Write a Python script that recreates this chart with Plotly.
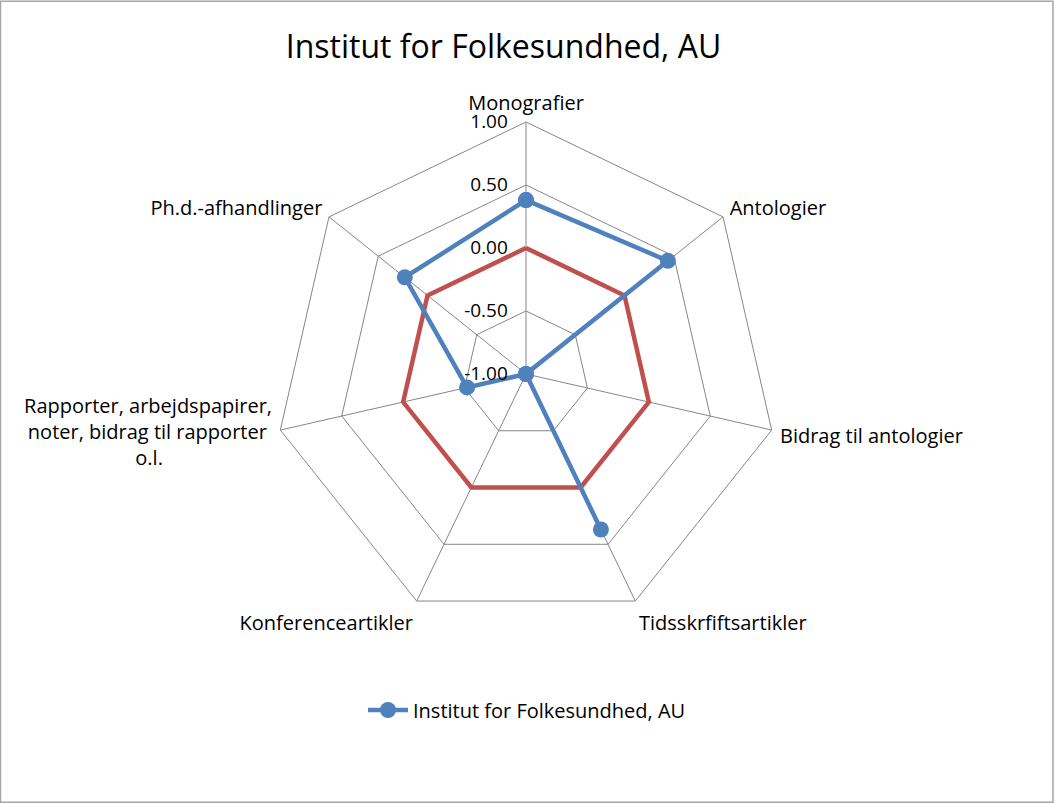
import plotly.graph_objects as go

categories = ["Monografier", "Antologier", "Bidrag til antologier", "Tidsskrfiftsartikler",
              "Konferenceartikler",
              "Rapporter, arbejdspapirer,<br>noter, bidrag til rapporter\u00a0<br>o.l." + "\u00a0" * 21 + "<br>\u00a0",
              "Ph.d.-afhandlinger"]
institut_values = [0.38, 0.44, -1.00, 0.37, -1.00, -0.52, 0.23]
reference_values = [0.0, 0.0, 0.0, 0.0, 0.0, 0.0, 0.0]
radial_ticks = [-1.0, -0.5, 0.0, 0.5, 1.0]
series_name = "Institut for Folkesundhed, AU"
title_text = "Institut for Folkesundhed, AU"

W, H = 1054, 803
cx, cy, R = 526, 374, 252

FONT = "Open Sans"
GRID = "#868686"
BLUE = "#4F81BD"
RED = "#C0504D"

fig = go.Figure()
fig.add_trace(go.Scatterpolar(
    r=reference_values + reference_values[:1],
    theta=categories + categories[:1],
    mode="lines",
    line=dict(color=RED, width=4.5),
    cliponaxis=True,
    showlegend=False,
    name="Reference",
))
fig.add_trace(go.Scatterpolar(
    r=institut_values + institut_values[:1],
    theta=categories + categories[:1],
    mode="lines+markers",
    line=dict(color=BLUE, width=4.5),
    marker=dict(size=16, color=BLUE, symbol="circle"),
    cliponaxis=True,
    name=series_name,
))

fig.update_layout(
    width=W, height=H,
    margin=dict(l=0, r=0, t=0, b=0),
    paper_bgcolor="white",
    font=dict(family=FONT, size=20, color="black"),
    title=dict(text=title_text, x=503.5 / W, xanchor="center", y=1 - 47 / H, yanchor="middle",
               font=dict(family=FONT, size=32, color="black")),
    polar=dict(
        domain=dict(x=[(cx - R) / W, (cx + R) / W], y=[(H - cy - R) / H, (H - cy + R) / H]),
        gridshape="linear",
        bgcolor="white",
        radialaxis=dict(
            range=[-1, 1], tickvals=radial_ticks,
            ticktext=[f"{v:.2f}" + "\u00a0" * 3 for v in radial_ticks],
            angle=90, tickangle=90, side="counterclockwise",
            showline=False, gridcolor=GRID, gridwidth=1, ticks="",
            tickfont=dict(family=FONT, size=19, color="black"),
        ),
        angularaxis=dict(
            rotation=90, direction="clockwise",
            showline=True, linecolor=GRID, linewidth=1,
            gridcolor=GRID, gridwidth=1,
            ticks="outside", ticklen=4, tickcolor="rgba(0,0,0,0)",
            tickfont=dict(family=FONT, size=20, color="black"),
        ),
    ),
    legend=dict(orientation="h", x=0.5, xanchor="center", y=1 - 710 / H, yanchor="middle",
                font=dict(family=FONT, size=20, color="black"), itemwidth=40),
    shapes=[dict(type="rect", xref="paper", yref="paper", x0=0.0005, x1=0.999, y0=0.001, y1=0.9985,
                 line=dict(color="#A6A6A6", width=1.5))],
)

fig.write_html("out.html", config={"displayModeBar": False},
               post_script="document.body.style.margin='0px';")
